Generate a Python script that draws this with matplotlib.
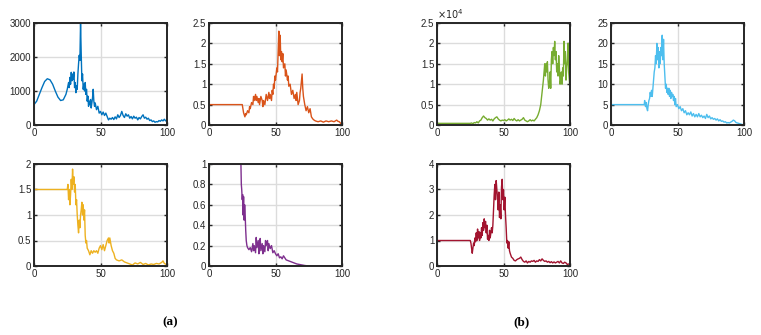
import matplotlib.pyplot as plt
from matplotlib.ticker import FormatStrFormatter, FuncFormatter

OUTPUT_PLOT_FILE = "out.png"

# (x, y) pairs, one list per panel
blue_pts = [(0, 600), (2, 700), (4, 900), (6, 1100), (8, 1280), (10, 1360), (12, 1330), (14, 1200),
            (16, 1000), (18, 820), (20, 720), (22, 740), (24, 900), (25, 1050), (26, 1250), (26.5, 1100),
            (27, 1400), (27.5, 1200), (28, 1550), (28.5, 1300), (29, 1500), (29.5, 1350), (30, 1560),
            (30.5, 1100), (31, 1250), (31.5, 950), (32, 1150), (32.5, 1050), (33, 1500), (33.5, 1800),
            (34, 2050), (34.5, 1900), (35, 3000), (35.5, 2100), (36, 1300), (36.5, 1500), (37, 1050),
            (37.5, 1200), (38, 1000), (38.5, 1250), (39, 900), (39.5, 1050), (40, 700), (40.5, 850),
            (41, 550), (41.5, 700), (42, 600), (42.5, 750), (43, 500), (43.5, 650), (44, 800), (44.5, 1050),
            (45, 700), (45.5, 550), (46, 650), (47, 450), (48, 550), (49, 350), (50, 400), (51, 300),
            (52, 380), (53, 280), (54, 350), (55, 250), (56, 150), (57, 200), (58, 170), (59, 220),
            (60, 160), (61, 240), (62, 180), (63, 300), (64, 220), (65, 280), (66, 400), (67, 280),
            (68, 220), (69, 330), (70, 260), (71, 300), (72, 200), (73, 250), (74, 180), (75, 260),
            (76, 200), (77, 230), (78, 150), (79, 220), (80, 180), (81, 250), (82, 300), (83, 200),
            (84, 230), (85, 170), (86, 200), (87, 130), (88, 150), (89, 100), (90, 120), (91, 80),
            (92, 100), (93, 90), (94, 130), (95, 110), (96, 150), (97, 120), (98, 170), (99, 120), (100, 150)]

orange_pts = [(0, 0.5), (25, 0.5), (25.5, 0.4), (26, 0.3), (27, 0.2), (27.5, 0.28), (28, 0.25), (29, 0.35),
              (30, 0.3), (30.5, 0.45), (31, 0.4), (32, 0.55), (33, 0.5), (33.5, 0.7), (34, 0.6), (35, 0.75),
              (35.5, 0.6), (36, 0.7), (37, 0.55), (37.5, 0.65), (38, 0.5), (39, 0.7), (40, 0.6), (40.5, 0.45),
              (41, 0.6), (42, 0.5), (43, 0.75), (44, 0.6), (45, 0.8), (45.5, 0.65), (46, 0.75), (47, 0.6),
              (47.5, 0.85), (48, 0.75), (48.5, 1.0), (49, 0.9), (49.5, 1.2), (50, 1.1), (51, 1.4), (51.5, 1.3),
              (52, 1.8), (52.5, 2.3), (53, 1.7), (53.5, 2.2), (54, 1.6), (54.5, 1.8), (55, 1.55), (55.5, 1.75),
              (56, 1.4), (57, 1.5), (57.5, 1.2), (58, 1.35), (59, 1.1), (59.5, 1.2), (60, 0.95), (61, 1.0),
              (62, 0.75), (63, 0.85), (64, 0.65), (65, 0.75), (65.5, 0.6), (66, 0.8), (67, 0.5), (68, 0.6),
              (68.5, 0.8), (69, 0.9), (70, 1.25), (70.5, 0.9), (71, 0.7), (72, 0.5), (73, 0.35), (74, 0.45),
              (75, 0.3), (76, 0.4), (77, 0.2), (78, 0.15), (79, 0.12), (80, 0.1), (82, 0.08), (84, 0.1),
              (86, 0.07), (88, 0.1), (90, 0.08), (92, 0.1), (94, 0.08), (96, 0.12), (97, 0.09), (98, 0.08),
              (99, 0.04), (100, 0.0)]

yellow_pts = [(0, 1.5), (25, 1.5), (25.5, 1.6), (26, 1.3), (26.5, 1.5), (27, 1.2), (27.5, 1.4), (28, 1.7),
              (28.5, 1.5), (29, 1.9), (29.5, 1.6), (30, 1.75), (30.5, 1.45), (31, 1.6), (31.5, 1.2), (32, 1.3),
              (32.5, 1.0), (33, 0.8), (33.5, 0.65), (34, 0.9), (34.5, 0.75), (35, 1.0), (35.5, 1.1), (36, 1.25),
              (36.5, 1.0), (37, 1.2), (37.5, 0.9), (38, 1.1), (38.5, 0.6), (39, 0.45), (39.5, 0.5), (40, 0.35),
              (41, 0.3), (42, 0.22), (43, 0.3), (44, 0.25), (45, 0.3), (46, 0.27), (47, 0.3), (48, 0.25),
              (49, 0.35), (50, 0.4), (51, 0.32), (52, 0.42), (53, 0.3), (54, 0.4), (55, 0.5), (56, 0.55),
              (56.5, 0.45), (57, 0.55), (58, 0.4), (59, 0.3), (60, 0.25), (61, 0.15), (62, 0.12), (64, 0.1),
              (66, 0.12), (68, 0.08), (70, 0.06), (72, 0.04), (74, 0.02), (76, 0.06), (78, 0.04), (80, 0.07),
              (82, 0.03), (84, 0.05), (86, 0.02), (88, 0.04), (90, 0.03), (92, 0.05), (94, 0.04), (96, 0.07),
              (97, 0.1), (98, 0.05), (100, 0.02)]

purple_pts = [(0, 1.0), (24, 1.0), (24.3, 0.8), (24.6, 0.75), (25, 0.65), (25.3, 0.7), (25.6, 0.5), (26, 0.68),
              (26.4, 0.45), (26.8, 0.6), (27.2, 0.5), (27.6, 0.35), (28, 0.25), (28.5, 0.2), (29, 0.18),
              (30, 0.16), (31, 0.18), (32, 0.14), (33, 0.22), (33.5, 0.15), (34, 0.2), (35, 0.13), (35.5, 0.28),
              (36, 0.18), (37, 0.25), (37.5, 0.12), (38, 0.2), (38.5, 0.27), (39, 0.15), (40, 0.22), (40.5, 0.12),
              (41, 0.2), (42, 0.14), (42.5, 0.25), (43, 0.2), (44, 0.25), (44.5, 0.15), (45, 0.22), (46, 0.17),
              (47, 0.2), (48, 0.13), (49, 0.15), (50, 0.12), (51, 0.1), (52, 0.12), (53, 0.08), (54, 0.09),
              (55, 0.07), (56, 0.1), (57, 0.08), (58, 0.06), (60, 0.05), (62, 0.04), (64, 0.03), (66, 0.02),
              (68, 0.015), (70, 0.01), (72, 0.005), (75, 0.0), (80, 0.0), (90, 0.0), (100, 0.0)]

# green panel values are in units of 1e4
green_pts = [(0, 0.04), (25, 0.04), (26, 0.05), (27, 0.03), (28, 0.06), (29, 0.05), (30, 0.08), (31, 0.05),
             (32, 0.1), (33, 0.12), (34, 0.18), (35, 0.22), (36, 0.18), (37, 0.16), (38, 0.12), (39, 0.15),
             (40, 0.12), (41, 0.14), (42, 0.1), (43, 0.15), (44, 0.18), (45, 0.2), (46, 0.15), (47, 0.12),
             (48, 0.1), (49, 0.12), (50, 0.11), (51, 0.13), (52, 0.1), (53, 0.12), (54, 0.15), (55, 0.12),
             (56, 0.14), (57, 0.11), (58, 0.16), (59, 0.12), (60, 0.1), (61, 0.13), (62, 0.1), (63, 0.12),
             (64, 0.14), (65, 0.18), (66, 0.12), (67, 0.1), (68, 0.08), (69, 0.1), (70, 0.13), (71, 0.1),
             (72, 0.12), (73, 0.1), (74, 0.14), (75, 0.18), (76, 0.25), (77, 0.35), (78, 0.5), (79, 0.8),
             (80, 1.1), (80.5, 1.3), (81, 1.5), (81.5, 1.2), (82, 1.5), (82.5, 1.3), (83, 1.55), (83.5, 1.1),
             (84, 0.9), (84.5, 1.0), (85, 1.3), (85.5, 0.9), (86, 1.6), (86.5, 1.8), (87, 1.5), (87.5, 1.9),
             (88, 1.7), (88.5, 2.05), (89, 1.6), (89.5, 1.8), (90, 1.3), (90.5, 1.5), (91, 1.2), (91.5, 1.7),
             (92, 1.4), (92.5, 1.0), (93, 1.1), (93.5, 1.3), (94, 1.0), (94.5, 1.4), (95, 1.2), (95.5, 2.05),
             (96, 1.5), (96.5, 1.8), (97, 1.1), (97.5, 1.4), (98, 1.6), (98.5, 2.0), (99, 1.3), (99.5, 1.1),
             (100, 0.85)]

cyan_pts = [(0, 5), (25, 5), (25.3, 6), (25.6, 5), (26, 4.5), (26.5, 5.5), (27, 4), (27.5, 3.5), (28, 5),
            (28.5, 6), (29, 6.5), (29.5, 8), (30, 7), (30.5, 8.5), (31, 7), (31.5, 9), (32, 11), (32.5, 13),
            (33, 14), (33.5, 17), (34, 15), (34.5, 20), (35, 16), (35.5, 19), (36, 14), (36.5, 18), (37, 15),
            (37.5, 19), (38, 17), (38.5, 22), (39, 16), (39.5, 21), (40, 15), (40.5, 12), (41, 9), (41.5, 10),
            (42, 8), (42.5, 9), (43, 7.5), (43.5, 9), (44, 7), (44.5, 8.5), (45, 6.5), (45.5, 8), (46, 7),
            (46.5, 7.5), (47, 6), (47.5, 7), (48, 5), (48.5, 6.5), (49, 4.5), (50, 5), (51, 4), (52, 4.5),
            (53, 3.5), (54, 4), (55, 3), (56, 3.5), (57, 2.5), (58, 3), (59, 2.5), (60, 3.2), (61, 2.2),
            (62, 2.8), (63, 2), (64, 2.6), (65, 2), (66, 2.8), (67, 2), (68, 2.4), (69, 1.8), (70, 2.2),
            (71, 1.6), (72, 2.6), (73, 1.8), (74, 2.2), (75, 1.5), (76, 1.8), (77, 1.4), (78, 1.6), (79, 1.2),
            (80, 1.5), (81, 1.0), (82, 1.3), (83, 0.9), (84, 1.0), (85, 0.7), (86, 0.8), (87, 0.5), (88, 0.6),
            (89, 0.5), (90, 0.7), (91, 0.9), (92, 1.2), (93, 1.0), (94, 0.6), (95, 0.5), (96, 0.4), (97, 0.3),
            (98, 0.2), (99, 0.1), (100, 0.0)]

crimson_pts = [(0, 1.0), (25, 1.0), (25.5, 0.9), (26, 0.7), (26.5, 0.5), (27, 0.7), (27.5, 0.9), (28, 0.8),
               (28.5, 1.1), (29, 0.95), (29.5, 1.3), (30, 1.0), (30.5, 1.45), (31, 1.1), (31.5, 1.35), (32, 1.0),
               (32.5, 1.3), (33, 1.1), (33.5, 1.5), (34, 1.2), (34.5, 1.7), (35, 1.4), (35.5, 1.85), (36, 1.5),
               (36.5, 1.75), (37, 1.3), (37.5, 1.6), (38, 1.05), (38.5, 1.2), (39, 1.0), (39.5, 1.4), (40, 1.1),
               (40.5, 1.3), (41, 1.5), (41.5, 1.3), (42, 1.6), (42.5, 2.2), (43, 2.8), (43.5, 3.2), (44, 2.6),
               (44.5, 3.35), (45, 3.0), (45.5, 2.7), (46, 2.2), (46.5, 2.9), (47, 1.9), (47.5, 2.4), (48, 1.85),
               (48.5, 3.1), (49, 3.4), (49.5, 2.6), (50, 3.0), (50.5, 2.2), (51, 2.7), (51.5, 2.0), (52, 1.5),
               (52.5, 0.9), (53, 1.0), (53.5, 0.7), (54, 0.95), (54.5, 0.6), (55, 0.5), (56, 0.35), (57, 0.3),
               (58, 0.22), (59, 0.2), (60, 0.25), (61, 0.28), (62, 0.3), (63, 0.35), (64, 0.25), (65, 0.18),
               (66, 0.15), (67, 0.2), (68, 0.12), (69, 0.18), (70, 0.15), (71, 0.2), (72, 0.18), (73, 0.22),
               (74, 0.15), (75, 0.2), (76, 0.18), (77, 0.25), (78, 0.2), (79, 0.28), (80, 0.22), (81, 0.18),
               (82, 0.2), (83, 0.15), (84, 0.18), (85, 0.13), (86, 0.17), (87, 0.12), (88, 0.16), (89, 0.12),
               (90, 0.15), (91, 0.18), (92, 0.12), (93, 0.2), (94, 0.12), (95, 0.1), (96, 0.15), (97, 0.12),
               (98, 0.06), (99, 0.08), (100, 0.05)]

# panel: (points, colour, ymax, yticks, axes rect [left, bottom, width, height])
W, H = 761, 335
PANELS = [
    (blue_pts, "#0072BD", 3000, [0, 1000, 2000, 3000], (34, 125)),
    (orange_pts, "#D95319", 2.5, [0, 0.5, 1, 1.5, 2, 2.5], (209, 125)),
    (yellow_pts, "#EDB120", 2, [0, 0.5, 1, 1.5, 2], (34, 266)),
    (purple_pts, "#7E2F8E", 1, [0, 0.2, 0.4, 0.6, 0.8, 1], (209, 266)),
    (green_pts, "#77AC30", 2.5, [0, 0.5, 1, 1.5, 2, 2.5], (437, 125)),
    (cyan_pts, "#4DBEEE", 25, [0, 5, 10, 15, 20, 25], (611, 125)),
    (crimson_pts, "#A2142F", 4, [0, 1, 2, 3, 4], (437, 266)),
]
AX_W, AX_H = 133, 102


def main():
    plt.rcParams['font.family'] = ['Liberation Sans', 'DejaVu Sans']
    fig = plt.figure(figsize=(W / 100, H / 100), dpi=100)

    for i, (pts, color, ymax, yticks, (left, bottom)) in enumerate(PANELS):
        ax = fig.add_axes([left / W, 1 - bottom / H, AX_W / W, AX_H / H])
        xs = [p[0] for p in pts]
        ys = [p[1] for p in pts]
        ax.plot(xs, ys, color=color, lw=1.0)
        ax.set_xlim(0, 100)
        ax.set_ylim(0, ymax)
        ax.set_xticks([0, 50, 100])
        ax.set_yticks(yticks)
        ax.yaxis.set_major_formatter(FuncFormatter(lambda v, p: f"{v:g}"))
        ax.grid(True, color="#dcdcdc", lw=1.0)
        ax.set_axisbelow(True)
        ax.tick_params(direction="in", length=2.5, width=1.0, labelsize=7, pad=2,
                       top=True, right=True, colors="#262626")
        for s in ax.spines.values():
            s.set_linewidth(1.4)
            s.set_color("#262626")
        if i == 4:
            ax.text(0.0, 1.02, r"$\times10^4$", transform=ax.transAxes, fontsize=7,
                    color="#262626", ha="left", va="bottom")

    fig.text(170 / W, 1 - 322 / H, "(a)", fontsize=9.5, fontweight="bold",
             family="Liberation Serif", ha="center", va="center")
    fig.text(522 / W, 1 - 322 / H, "(b)", fontsize=9.5, fontweight="bold",
             family="Liberation Serif", ha="center", va="center")

    fig.savefig(OUTPUT_PLOT_FILE, dpi=100)


if __name__ == "__main__":
    main()
